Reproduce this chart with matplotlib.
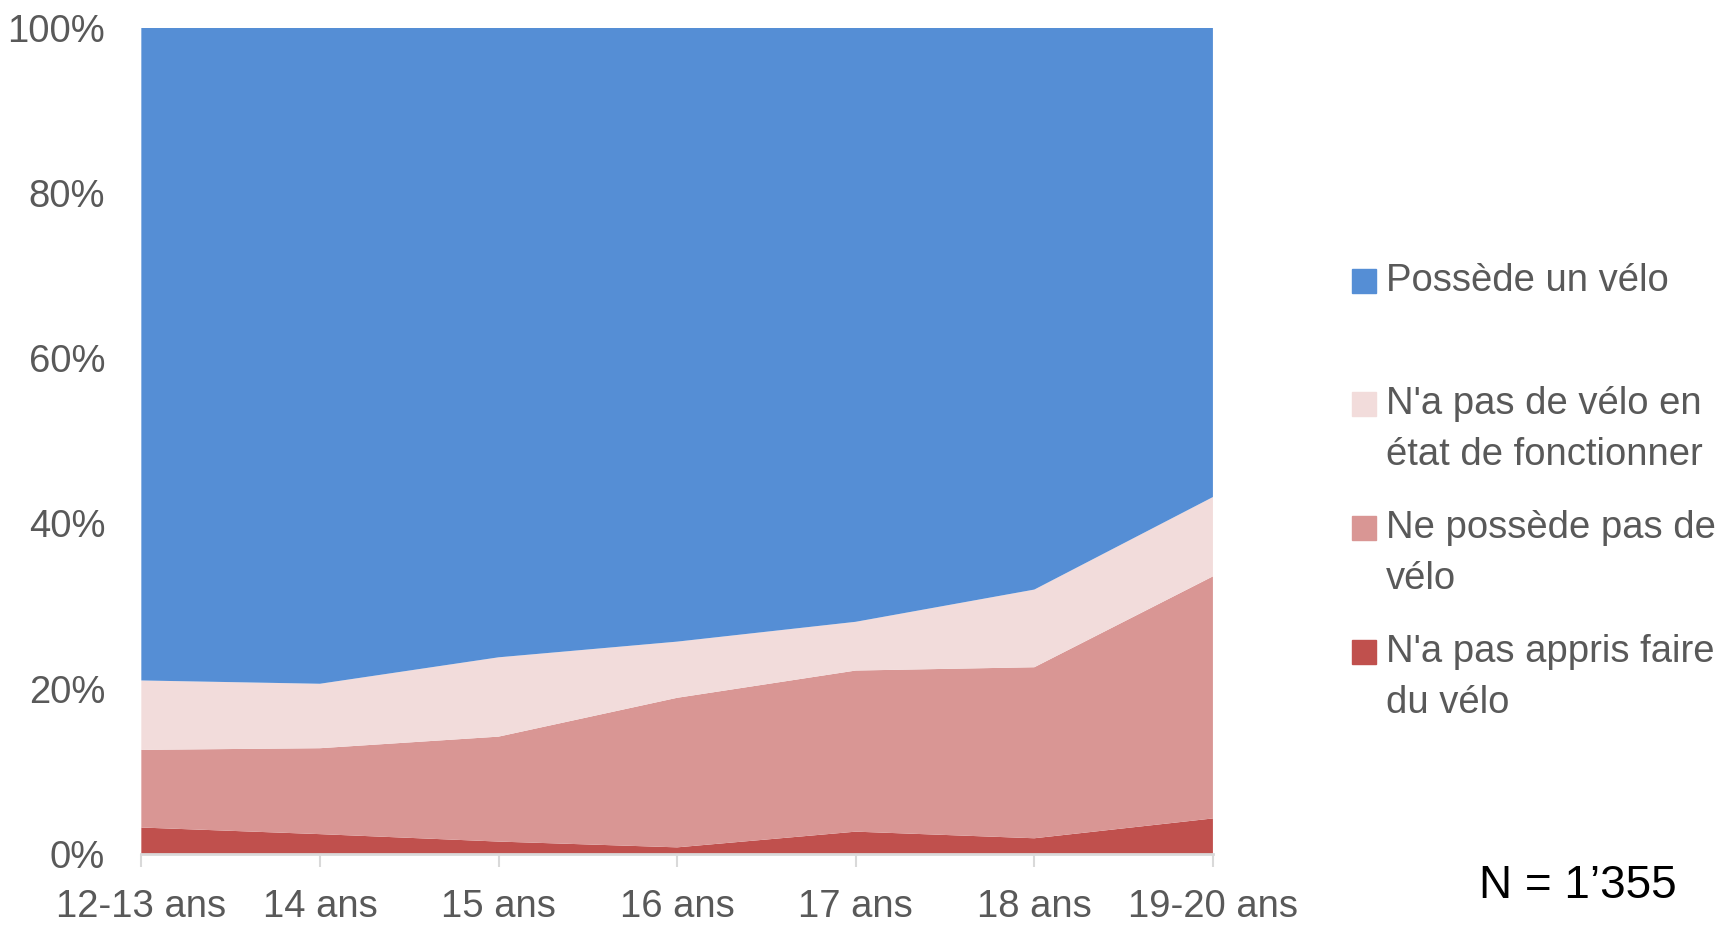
import numpy as np
import matplotlib
matplotlib.use("Agg")
import matplotlib.pyplot as plt
from matplotlib.patches import Rectangle

# Données (en %)
ages = ["12-13 ans", "14 ans", "15 ans", "16 ans", "17 ans", "18 ans", "19-20 ans"]
pas_appris = [3.2, 2.4, 1.5, 0.8, 2.7, 1.9, 4.3]
ne_possede_pas = [9.4, 10.4, 12.7, 18.1, 19.5, 20.7, 29.3]
pas_en_etat = [8.4, 7.8, 9.6, 6.8, 5.9, 9.4, 9.6]
possede = [79.0, 79.4, 76.2, 74.3, 71.9, 68.0, 56.8]

noms = ["Possède un vélo", "N'a pas de vélo en\nétat de fonctionner",
        "Ne possède pas de\nvélo", "N'a pas appris faire\ndu vélo"]
couleurs = ["#558ED5", "#F2DCDB", "#D99694", "#C0504D"]

plt.rcParams['font.family'] = ['Liberation Sans', 'DejaVu Sans']
gris = "#595959"

fig = plt.figure(figsize=(17.32, 9.25), dpi=100)
ax = fig.add_axes([0.0816, 0.0768, 0.6187, 0.8932])

x = np.arange(len(ages))
ax.stackplot(x, pas_appris, ne_possede_pas, pas_en_etat, possede,
             colors=couleurs[::-1], linewidth=0)

ax.set_xlim(0, len(ages) - 1)
ax.set_ylim(0, 100)
ax.set_xticks(x)
ax.set_xticklabels(ages)
ax.set_yticks(np.arange(0, 101, 20))
ax.set_yticklabels([f"{v}%" for v in range(0, 101, 20)])

for s in ["top", "right", "left"]:
    ax.spines[s].set_visible(False)
ax.spines["bottom"].set_color("#D9D9D9")
ax.spines["bottom"].set_linewidth(2)
ax.tick_params(axis="x", colors="#D9D9D9", length=9.5, width=1.5, pad=16,
               labelsize=27.5, labelcolor=gris)
ax.tick_params(axis="y", length=0, pad=26, labelsize=27.5, labelcolor=gris)

# Légende dessinée à la main
W, H = 1732, 925
entrees = [(noms[0], 281), (noms[1], 404), (noms[2], 528), (noms[3], 652)]
for (nom, y), c in zip(entrees, couleurs):
    fig.patches.append(Rectangle((1352 / W, 1 - (y + 12) / H), 24 / W, 24 / H,
                                 transform=fig.transFigure, color=c))
    fig.text(1386 / W, 1 - (y - 18) / H, nom, fontsize=27.5, color=gris,
             va="top", ha="left", linespacing=1.54)

fig.text(1479 / W, 1 - 886 / H, "N = 1\u2019355", fontsize=33, color="black",
         va="center", ha="left")

fig.savefig("out.png", dpi=100)
